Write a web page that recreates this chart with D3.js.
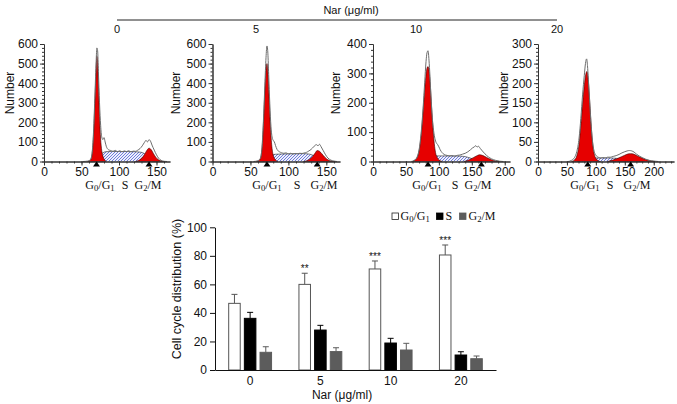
<!DOCTYPE html>
<html><head><meta charset="utf-8">
<script src="https://cdn.jsdelivr.net/npm/d3@7"></script>
<style>
body{margin:0;background:#fff;}
svg{display:block;font-family:"Liberation Sans",Arial,sans-serif;}
</style>
</head><body>
<svg id="c" width="677" height="404"></svg>
<script>
// ---------------- DATA ----------------
const doses = ["0", "5", "10", "20"];
const phases = ["G0/G1", "S", "G2/M"];
// bar chart (% of cells)
const g0g1 = [46.7, 60.0, 70.8, 80.6];
const sPhase = [36.2, 28.0, 18.9, 10.5];
const g2m = [12.4, 12.9, 14.0, 7.9];
const g0g1Err = [6.3, 7.8, 5.6, 7.0];
const sErr = [4.2, 3.3, 3.3, 2.3];
const g2mErr = [3.9, 2.7, 4.7, 1.9];
const stars = ["", "**", "***", "***"];
const barTicks = [0, 20, 40, 60, 80, 100];

// flow histograms: [channel, count]
const raw0 = [[52,0],[58,2],[62,10],[64,40],[66,150],[68,350],[69.5,510],[70.5,580],[71.5,565],[72.5,460],[74,300],[75.5,185],[77,125],[78.5,112],[80,122],[81.5,100],[83,78],[86,60],[89,56],[92,52],[95,57],[98,50],[101,55],[104,49],[107,54],[110,51],[113,55],[116,49],[119,53],[122,52],[125,58],[128,66],[131,80],[134,98],[136,108],[138,100],[140,112],[142,104],[144,84],[147,58],[150,34],[153,16],[156,6],[160,1],[164,0]];
const g1Fit0 = [[58,0],[62,8],[64,35],[66,130],[68,320],[69.5,470],[70.5,538],[71.5,505],[72.5,400],[74,230],[75.5,115],[77,55],[79,22],[81,8],[83,0]];
const sFit0 = [[66,0],[70,10],[74,28],[78,43],[82,50],[90,51],[100,51],[110,51],[120,50],[128,48],[133,42],[137,30],[141,16],[145,5],[149,0]];
const g2Fit0 = [[122,0],[126,5],[130,16],[134,36],[137,56],[140,68],[143,60],[146,40],[149,22],[152,10],[156,3],[160,0]];

const raw5 = [[54,0],[59,3],[63,15],[65,60],[67,200],[69,390],[70.5,530],[71.8,590],[73,550],[74,445],[75.5,295],[77,180],[78.5,125],[80,108],[81.5,100],[83,82],[85,62],[88,50],[91,45],[94,42],[97,44],[100,39],[103,42],[106,38],[109,41],[112,39],[115,42],[118,41],[121,44],[124,47],[127,54],[130,62],[133,74],[135,82],[137,86],[139,80],[141,88],[143,76],[146,55],[149,34],[152,18],[156,7],[160,2],[164,0]];
const g1Fit5 = [[58,0],[62,8],[64,30],[66,105],[68,270],[70,440],[71.8,500],[73,455],[74.5,335],[76,200],[78,85],[80,32],[83,9],[86,0]];
const sFit5 = [[66,0],[70,8],[74,20],[78,32],[83,37],[90,38],[100,39],[110,40],[120,40],[127,38],[132,32],[136,22],[140,11],[144,3],[148,0]];
const g2Fit5 = [[120,0],[124,4],[128,12],[132,26],[135,42],[138,56],[141,52],[144,40],[148,22],[152,9],[157,2],[162,0]];

const raw10 = [[58,0],[63,4],[67,15],[70,40],[73,95],[76,180],[78.5,270],[80.5,340],[82,370],[83.6,377],[85,345],[86.5,290],[88,220],[90,150],[92,105],[94,78],[96,64],[98,58],[100,50],[102,40],[105,30],[108,24],[112,21],[116,19],[120,20],[124,18],[128,21],[132,22],[136,25],[140,28],[144,33],[148,40],[151,46],[154,50],[156,54],[158,49],[160,52],[163,44],[166,36],[170,26],[175,16],[180,9],[186,4],[192,1],[198,0]];
const g1Fit10 = [[60,0],[64,6],[68,20],[71,50],[74,110],[77,200],[80,285],[82,318],[83.6,323],[85,310],[87,260],[89,185],[91,115],[93,62],[95,30],[98,12],[101,4],[105,0]];
const sFit10 = [[64,0],[70,5],[76,11],[82,16],[88,18],[95,19],[105,19],[115,19],[125,19],[135,18],[143,15],[150,10],[156,5],[162,1],[166,0]];
const g2Fit10 = [[138,0],[143,3],[148,8],[153,14],[158,20],[162,23],[166,21],[170,17],[175,11],[180,6],[186,2],[192,0]];

const raw20 = [[52,0],[58,3],[63,10],[67,25],[71,60],[74,110],[77,170],[80,220],[82,250],[84,262],[85.5,245],[87,210],[89,160],[91,110],[93,70],[95,42],[97,26],[100,16],[104,11],[108,9],[112,10],[116,9],[120,11],[125,11],[130,13],[135,15],[140,18],[145,22],[150,25],[154,27],[158,28],[162,27],[166,24],[170,19],[175,14],[180,10],[186,6],[192,3],[200,1],[208,0]];
const g1Fit20 = [[58,0],[63,4],[67,14],[71,45],[75,110],[79,180],[82,218],[84.5,230],[87,205],[89.5,150],[92,90],[94.5,45],[97,20],[100,8],[104,2],[108,0]];
const sFit20 = [[68,0],[75,3],[82,6],[90,8],[100,9],[112,9],[124,9],[136,8],[148,6],[160,4],[172,2],[182,0]];
const g2Fit20 = [[120,0],[128,3],[136,7],[144,12],[150,16],[155,19],[160,20],[165,19],[171,15],[178,10],[186,5],[194,2],[202,0]];

const g1Peak = [70, 71.8, 83.6, 86];
const g2Peak = [140, 138, 164.5, 160];
const histYMax = [600, 600, 400, 300];
const histYStep = [100, 100, 100, 50];
const histXMax = [168, 168, 208, 235];
const histXTicks = [[0,50,100,150],[0,50,100,150],[0,50,100,150,200],[0,50,100,150,200]];

// ---------------- LAYOUT ----------------
const svg = d3.select("#c");
const defs = svg.append("defs");
const pat = defs.append("pattern").attr("id","hatch").attr("patternUnits","userSpaceOnUse")
  .attr("width",3).attr("height",3);
pat.append("rect").attr("width",3).attr("height",3).attr("fill","#eef0fb");
pat.append("path").attr("d","M-1,1 l2,-2 M0,3 l3,-3 M2,4 l2,-2")
  .attr("stroke","#3a4bd0").attr("stroke-width",0.7);

const panelX = [[44,170],[212.5,340],[373,510],[538,674]];
const yLabX = [10, 175.5, 335.5, 504];
const doseLabX = [117, 256, 416, 557];
const phaseLabX = [[100,125,148],[267,297,324],[427,455,478],[585,610,637]];
const raws = [raw0, raw5, raw10, raw20];
const g1s = [g1Fit0, g1Fit5, g1Fit10, g1Fit20];
const ss = [sFit0, sFit5, sFit10, sFit20];
const g2s = [g2Fit0, g2Fit5, g2Fit10, g2Fit20];

// header
svg.append("text").attr("x",351).attr("y",14).attr("text-anchor","middle")
  .attr("font-size",11).attr("fill","#111").text("Nar (\u03bcg/ml)");
svg.append("line").attr("x1",117).attr("x2",557).attr("y1",20).attr("y2",20)
  .attr("stroke","#222").attr("stroke-width",1);

function subLabel(sel, parts, size){
  let prevSub = false;
  parts.forEach(([t, sub]) => {
    const ts = sel.append("tspan").text(t);
    if (sub) { ts.attr("font-size", size*0.72); if(!prevSub) ts.attr("dy", size*0.18); }
    else if (prevSub) ts.attr("dy", -size*0.18);
    prevSub = sub;
  });
}
const phaseParts = [[["G",0],["0",1],["/G",0],["1",1]], [["S",0]], [["G",0],["2",1],["/M",0]]];

const y0 = 161.5, yTop = 44;
doses.forEach((d, i) => {
  const x = d3.scaleLinear().domain([0, histXMax[i]]).range(panelX[i]);
  const y = d3.scaleLinear().domain([0, histYMax[i]]).range([y0, yTop]);
  const g = svg.append("g");

  const area = d3.area().x(p => x(p[0])).y0(y(0)).y1(p => y(p[1])).curve(d3.curveMonotoneX);
  const line = d3.line().x(p => x(p[0])).y(p => y(p[1])).curve(d3.curveMonotoneX);

  g.append("path").attr("d", area(ss[i])).attr("fill","url(#hatch)");
  g.append("path").attr("d", line(ss[i])).attr("fill","none").attr("stroke","#222").attr("stroke-width",0.6);
  [g1s[i], g2s[i]].forEach(dat => {
    g.append("path").attr("d", area(dat)).attr("fill","#e60000").attr("stroke","#3a0000").attr("stroke-width",0.6);
  });
  g.append("path").attr("d", line(raws[i])).attr("fill","none").attr("stroke","#6e6e6e").attr("stroke-width",1);

  const yAx = d3.axisLeft(y).tickValues(d3.range(0, histYMax[i]+1, histYStep[i])).tickSize(4).tickSizeOuter(0).tickPadding(2);
  const yMinor = d3.axisLeft(y).tickValues(d3.range(0, histYMax[i]+1, histYStep[i]/5)).tickSize(2).tickFormat("").tickSizeOuter(0);
  const xAx = d3.axisBottom(x).tickValues(histXTicks[i]).tickSize(4).tickSizeOuter(0).tickPadding(2);
  const xMinor = d3.axisBottom(x).tickValues(d3.range(0, histXMax[i], 10)).tickSize(2).tickFormat("").tickSizeOuter(0);
  [yMinor, yAx].forEach(a => g.append("g").attr("transform",`translate(${panelX[i][0]},0)`).call(a));
  [xMinor, xAx].forEach(a => g.append("g").attr("transform",`translate(0,${y0})`).call(a));
  g.selectAll(".tick text").attr("font-size",12).attr("fill","#111").attr("font-family","'Liberation Sans',Arial,sans-serif");
  g.selectAll(".domain, .tick line").attr("stroke","#333");

  [g1Peak[i], g2Peak[i]].forEach(v => {
    const cx = x(v);
    g.append("path").attr("d",`M${cx},${y0} L${cx-3.5},${y0+5} L${cx+3.5},${y0+5} Z`).attr("fill","#000");
  });

  svg.append("text").attr("x", doseLabX[i]).attr("y", 33).attr("text-anchor","middle")
    .attr("font-size",11).attr("fill","#111").text(d);
  svg.append("text").attr("transform",`translate(${yLabX[i]+4},93) rotate(-90)`).attr("text-anchor","middle")
    .attr("font-size",12).attr("fill","#111").text("Number");
  phaseParts.forEach((pp, k) => {
    const t = svg.append("text").attr("x", phaseLabX[i][k]).attr("y", 189).attr("text-anchor","middle")
      .attr("font-family","'Liberation Serif','Times New Roman',serif").attr("font-size",12).attr("fill","#111");
    subLabel(t, pp, 12);
  });
});

// ---------------- BAR CHART ----------------
const bx = d3.scaleBand().domain(doses).range([215, 496]);
const by = d3.scaleLinear().domain([0, 100]).range([370, 227.3]);
const inner = d3.scaleBand().domain(phases).range([-23.5, 23.5]).paddingInner(0.2).paddingOuter(0.1);
const series = [
  {k:"G0/G1", v:g0g1, e:g0g1Err, fill:"#fff", stroke:"#555"},
  {k:"S", v:sPhase, e:sErr, fill:"#000", stroke:"#000"},
  {k:"G2/M", v:g2m, e:g2mErr, fill:"#5c5c5c", stroke:"#5c5c5c"}
];
const bg = svg.append("g");
series.forEach(s => {
  doses.forEach((d, i) => {
    const cx = bx(d) + bx.bandwidth()/2 + inner(s.k);
    const w = inner.bandwidth();
    const mid = cx + w/2;
    const top = by(s.v[i]), et = by(s.v[i] + s.e[i]);
    bg.append("line").attr("x1",mid).attr("x2",mid).attr("y1",top).attr("y2",et).attr("stroke",s.stroke).attr("stroke-width",1);
    bg.append("line").attr("x1",mid-3).attr("x2",mid+3).attr("y1",et).attr("y2",et).attr("stroke",s.stroke).attr("stroke-width",1);
    bg.append("rect").attr("x",cx+0.5).attr("y",top).attr("width",w-1).attr("height",by(0)-top)
      .attr("fill",s.fill).attr("stroke",s.stroke).attr("stroke-width",1);
    if (s.k === "G0/G1" && stars[i]) {
      bg.append("text").attr("x",mid).attr("y",et-1).attr("text-anchor","middle")
        .attr("font-size",10).attr("fill","#111").text(stars[i]);
    }
  });
});
const byAx = d3.axisLeft(by).tickValues(barTicks).tickSize(5).tickSizeOuter(0).tickPadding(3);
bg.append("g").attr("transform","translate(215,0)").call(byAx);
const bxAx = d3.axisBottom(bx).tickSize(0).tickSizeOuter(0).tickPadding(6);
bg.append("g").attr("transform","translate(0,370)").call(bxAx);
bg.selectAll(".tick text").attr("font-size",12).attr("fill","#111").attr("font-family","'Liberation Sans',Arial,sans-serif");
bg.selectAll(".domain, .tick line").attr("stroke","#111");
svg.append("text").attr("x",342).attr("y",399).attr("text-anchor","middle").attr("font-size",12)
  .attr("fill","#111").text("Nar (\u03bcg/ml)");
svg.append("text").attr("transform","translate(181,289) rotate(-90)").attr("text-anchor","middle")
  .attr("font-size",12.5).attr("fill","#111").text("Cell cycle distribution (%)");

// legend
const legX = [[392,400.5],[436.5,445.5],[459.5,468.5]];
series.forEach((s, k) => {
  svg.append("rect").attr("x",legX[k][0]).attr("y",213).attr("width",6.5).attr("height",6.5)
    .attr("fill",s.fill).attr("stroke",k===0?"#222":s.stroke).attr("stroke-width",0.8);
  const t = svg.append("text").attr("x",legX[k][1]).attr("y",220).attr("font-size",12)
    .attr("font-family","'Liberation Serif','Times New Roman',serif").attr("fill","#111");
  subLabel(t, phaseParts[k], 12);
});
</script>
</body></html>
